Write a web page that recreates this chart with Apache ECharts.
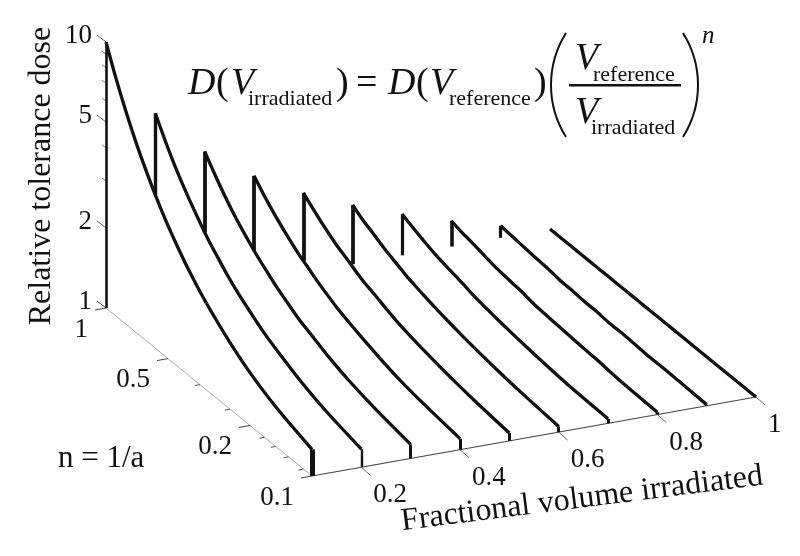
<!DOCTYPE html>
<html>
<head>
<meta charset="utf-8">
<title>Relative tolerance dose</title>
<script src="https://cdn.jsdelivr.net/npm/echarts@6/dist/echarts.min.js"></script>
<style>
  html, body { margin: 0; padding: 0; background: #fff; }
  #chart { width: 800px; height: 556px; }
</style>
</head>
<body>
<div id="chart"></div>
<script>
  // values
  var volumes = [0.1, 0.2, 0.3, 0.4, 0.5, 0.6, 0.7, 0.8, 0.9, 1];
  var nValues = [1, 0.9, 0.8, 0.7, 0.6, 0.55, 0.5, 0.45, 0.4, 0.35, 0.3, 0.25, 0.2, 0.15, 0.1];
  var doseV01 = [10, 7.94, 6.31, 5.01, 3.98, 3.55, 3.16, 2.82, 2.51, 2.24, 2, 1.78, 1.58, 1.41, 1.26];
  var doseV02 = [5, 4.26, 3.62, 3.09, 2.63, 2.42, 2.24, 2.06, 1.9, 1.76, 1.62, 1.5, 1.38, 1.27, 1.17];
  var doseV03 = [3.33, 2.96, 2.62, 2.32, 2.06, 1.94, 1.83, 1.72, 1.62, 1.52, 1.44, 1.35, 1.27, 1.2, 1.13];
  var doseV04 = [2.5, 2.28, 2.08, 1.9, 1.73, 1.66, 1.58, 1.51, 1.44, 1.38, 1.32, 1.26, 1.2, 1.15, 1.1];
  var doseV05 = [2, 1.87, 1.74, 1.62, 1.52, 1.46, 1.41, 1.37, 1.32, 1.27, 1.23, 1.19, 1.15, 1.11, 1.07];
  var doseV06 = [1.67, 1.58, 1.51, 1.43, 1.36, 1.32, 1.29, 1.26, 1.23, 1.2, 1.17, 1.14, 1.11, 1.08, 1.05];
  var doseV07 = [1.43, 1.38, 1.33, 1.28, 1.24, 1.22, 1.2, 1.17, 1.15, 1.13, 1.11, 1.09, 1.07, 1.05, 1.04];
  var doseV08 = [1.25, 1.22, 1.2, 1.17, 1.14, 1.13, 1.12, 1.11, 1.09, 1.08, 1.07, 1.06, 1.05, 1.03, 1.02];
  var doseV09 = [1.11, 1.1, 1.09, 1.08, 1.07, 1.06, 1.05, 1.05, 1.04, 1.04, 1.03, 1.03, 1.02, 1.02, 1.01];
  var doseV10 = [1, 1, 1, 1, 1, 1, 1, 1, 1, 1, 1, 1, 1, 1, 1];
  var doseCurves = [doseV01, doseV02, doseV03, doseV04, doseV05, doseV06, doseV07, doseV08, doseV09, doseV10];

  var doseMajor = [10, 5, 2, 1];
  var doseMinor = [9, 8, 7, 6, 4, 3];
  var nMajor = [1, 0.5, 0.2, 0.1];
  var nMinor = [0.35, 0.25, 0.17, 0.15, 0.13, 0.11];
  var volumeTicks = [0.2, 0.4, 0.6, 0.8, 1];

  var SERIF = "'Liberation Serif'";
  var INK = '#111';

  // oblique view of the box: corner V=0.1, n=1, D=1 sits at (106, 308)
  function project(v, n, d) {
    var across = (v - 0.1) / 0.9;
    var depth = -Math.log10(n);
    var up = Math.log10(d);
    return [106 + across * 444 + depth * 206, 308 - across * 79 + depth * 168 - up * 266];
  }

  function curvePoints(i) {
    return nValues.map(function (n, k) { return project(volumes[i], n, doseCurves[i][k]); });
  }

  // back edge of curve i runs down to D=1 unless the curve in front hides it first
  function edgeBottom(i) {
    var floor = project(volumes[i], 1, 1);
    if (i === 0) return floor;
    var front = curvePoints(i - 1);
    for (var k = 1; k < front.length; k++) {
      if (front[k][0] >= floor[0]) {
        var t = (floor[0] - front[k - 1][0]) / (front[k][0] - front[k - 1][0]);
        var y = front[k - 1][1] + t * (front[k][1] - front[k - 1][1]);
        return [floor[0], Math.min(y, floor[1])];
      }
    }
    return floor;
  }

  var series = [];
  var edgeWidths = [2.6, 3.4, 3.8, 3.8, 3.8, 3.8, 3.2, 3.6, 3.2, 3];
  var footWidths = [5, 2.4, 3, 3, 3, 3, 3, 3.4, 2.6, 2];

  volumes.forEach(function (v, i) {
    var pts = curvePoints(i);
    var foot = project(v, 0.1, 1);
    series.push({
      type: 'line',
      data: pts,
      showSymbol: false,
      symbol: 'none',
      smooth: 0.3,
      clip: false,
      silent: true,
      lineStyle: { color: INK, width: 3.3, join: 'miter', miterLimit: 8 }
    });
    var segs = [{ coords: [pts[pts.length - 1], foot], lineStyle: { width: footWidths[i] } }];
    if (i < volumes.length - 1) {
      segs.push({ coords: [pts[0], edgeBottom(i)], lineStyle: { width: edgeWidths[i] } });
    }
    series.push({
      type: 'lines',
      coordinateSystem: 'cartesian2d',
      data: segs,
      silent: true,
      lineStyle: { color: INK, opacity: 1 }
    });
  });

  function tickLines(list, color, width) {
    return {
      type: 'lines',
      coordinateSystem: 'cartesian2d',
      silent: true,
      data: list,
      lineStyle: { color: color, width: width, opacity: 1 },
      z: 1
    };
  }
  function offset(p, dx, dy) { return [p[0] + dx, p[1] + dy]; }

  var v0 = volumes[0];
  series.push(tickLines([{ coords: [project(v0, 1, 1), project(v0, 0.1, 1)] }], '#aaa', 1));
  series.push(tickLines([{ coords: [project(v0, 0.1, 1), project(1, 0.1, 1)] }], '#444', 1.2));
  series.push(tickLines(doseMajor.map(function (d) {
    var p = project(v0, 1, d);
    return { coords: [p, offset(p, -9, -7)] };
  }), '#555', 1));
  series.push(tickLines(doseMinor.map(function (d) {
    var p = project(v0, 1, d);
    return { coords: [p, offset(p, -4, -3)] };
  }), '#777', 1));
  series.push(tickLines(nMajor.map(function (n) {
    var p = project(v0, n, 1);
    return { coords: [p, offset(p, -11, 2)] };
  }), '#444', 1));
  series.push(tickLines(nMinor.map(function (n) {
    var p = project(v0, n, 1);
    return { coords: [p, offset(p, -5, 1)] };
  }), '#555', 1));
  series.push(tickLines(volumeTicks.map(function (v) {
    var p = project(v, 0.1, 1);
    return { coords: [p, offset(p, 9, 8)] };
  }), '#666', 1));

  function text(str, x, y, size, opts) {
    opts = opts || {};
    return {
      type: 'text',
      x: x,
      y: y,
      rotation: opts.rotation || 0,
      silent: true,
      style: {
        text: str,
        font: (opts.italic ? 'italic ' : '') + size + 'px ' + SERIF,
        fill: INK,
        align: opts.align || 'left',
        verticalAlign: 'middle'
      }
    };
  }
  // formula pieces are placed by baseline
  function base(str, x, baseline, size, opts) {
    return text(str, x, baseline - 0.28 * size, size, opts);
  }

  var graphics = [];
  doseMajor.forEach(function (d) {
    var p = project(v0, 1, d);
    graphics.push(text(String(d), p[0] - 14, p[1] - 6, 27, { align: 'right' }));
  });
  nMajor.forEach(function (n) {
    var p = project(v0, n, 1);
    graphics.push(text(String(n), p[0] - 18, p[1] + 21.5, 27, { align: 'right' }));
  });
  volumeTicks.forEach(function (v) {
    var p = project(v, 0.1, 1);
    graphics.push(text(String(v), p[0] + 12, p[1] + 28, 27));
  });

  graphics.push(text('Relative tolerance dose', 42, 176, 32, { align: 'center', rotation: Math.PI / 2 }));
  graphics.push(text('Fractional volume irradiated', 582, 499, 32, { align: 'center', rotation: 7.2 * Math.PI / 180 }));
  graphics.push(text('n = 1/a', 58, 459, 31));

  // D(V_irradiated) = D(V_reference) ( V_reference / V_irradiated )^n
  graphics.push(
    base('D', 188, 95, 38, { italic: true }),
    base('(', 216, 95, 38),
    base('V', 231, 95, 38, { italic: true }),
    base('irradiated', 248, 105, 22),
    base(')', 336, 95, 38),
    base('=', 356, 95, 38),
    base('D', 388, 95, 38, { italic: true }),
    base('(', 416, 95, 38),
    base('V', 430, 95, 38, { italic: true }),
    base('reference', 449, 105, 22),
    base(')', 534, 95, 38),
    base('V', 575, 70, 38, { italic: true }),
    base('reference', 593, 81, 22),
    base('V', 575, 124, 38, { italic: true }),
    base('irradiated', 591, 134, 22),
    base('n', 702, 43, 25, { italic: true })
  );
  graphics.push({
    type: 'rect',
    silent: true,
    shape: { x: 569, y: 84, width: 112, height: 2.5 },
    style: { fill: INK }
  });
  // tall thin delimiters round the fraction
  graphics.push({
    type: 'bezierCurve',
    silent: true,
    shape: { x1: 566, y1: 33, cpx1: 546, cpy1: 65, cpx2: 546, cpy2: 105, x2: 566, y2: 137 },
    style: { stroke: INK, lineWidth: 2, fill: null }
  }, {
    type: 'bezierCurve',
    silent: true,
    shape: { x1: 683, y1: 33, cpx1: 703, cpy1: 65, cpx2: 703, cpy2: 105, x2: 683, y2: 137 },
    style: { stroke: INK, lineWidth: 2, fill: null }
  });

  var chart = echarts.init(document.getElementById('chart'));
  chart.setOption({
    animation: false,
    backgroundColor: '#fff',
    grid: { left: 0, right: 0, top: 0, bottom: 0 },
    xAxis: { type: 'value', min: 0, max: 800, show: false },
    yAxis: { type: 'value', min: 0, max: 556, inverse: true, show: false },
    series: series,
    graphic: graphics
  });
</script>
</body>
</html>
